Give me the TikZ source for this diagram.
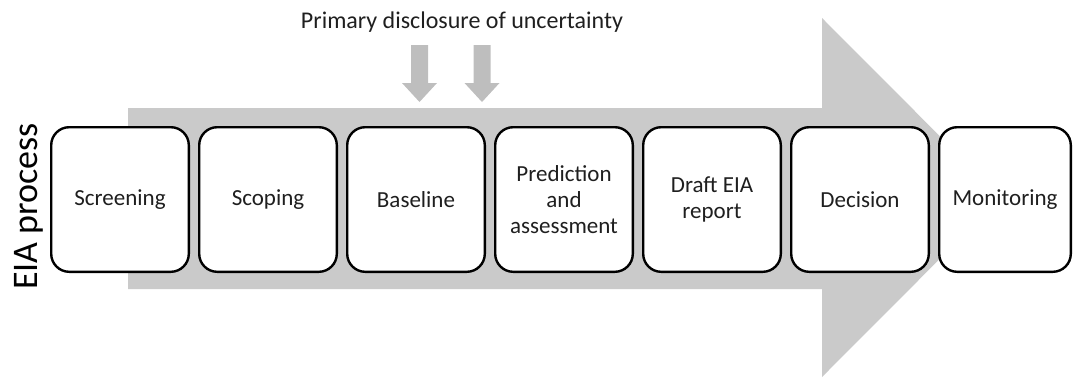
\documentclass[tikz,border=0pt]{standalone}
\usepackage{fontspec}
\setmainfont{Carlito}
\usetikzlibrary{positioning}

\definecolor{arrowgrey}{RGB}{202,202,202}
\definecolor{cuegrey}{RGB}{190,190,190}

\tikzset{
  stage/.style={draw=black, line width=2.4pt, rounded corners=18pt, fill=white,
    minimum width=137.6pt, minimum height=144.6pt, inner sep=2pt, align=center,
    text=black!88, font=\fontsize{23}{26}\selectfont},
}

\begin{document}
\begin{tikzpicture}[x=1pt,y=-1pt]
   \useasboundingbox (0,0) rectangle (1073,378);

   % big process arrow behind the stages
   \fill[arrowgrey] (128,108) -- (822,108) -- (822,18) -- (1001,197.5)
      -- (822,377) -- (822,289) -- (128,289) -- cycle;

   % the stages
   \node[stage] (screening) at (120,199.5) {Screening};
   \node[stage, right=8pt of screening] (scoping) {Scoping};
   \node[stage, right=8pt of scoping] (baseline) {Baseline};
   \node[stage, right=8pt of baseline] (prediction) {Prediction\\and\\assessment};
   \node[stage, right=8pt of prediction] (draft) {Draft EIA\\report};
   \node[stage, right=8pt of draft] (decision) {Decision};
   \node[stage, right=8pt of decision, minimum width=131.6pt] (monitoring) {Monitoring};

   \node[rotate=90, anchor=base, font=\fontsize{36}{40}\selectfont] (eia) at (37,206.5) {EIA process};

   % disclosure label and its two down arrows
   \node[anchor=base, font=\fontsize{24}{28}\selectfont, text=black!88] (disclosure) at (462,28)
      {Primary disclosure of uncertainty};
   \foreach \x in {419.5,482}
      \fill[cuegrey] (\x-8.5,45) -- (\x+8.5,45) -- (\x+8.5,83) -- (\x+17.5,83)
         -- (\x,102) -- (\x-17.5,83) -- (\x-8.5,83) -- cycle;

 \end{tikzpicture}
\end{document}
